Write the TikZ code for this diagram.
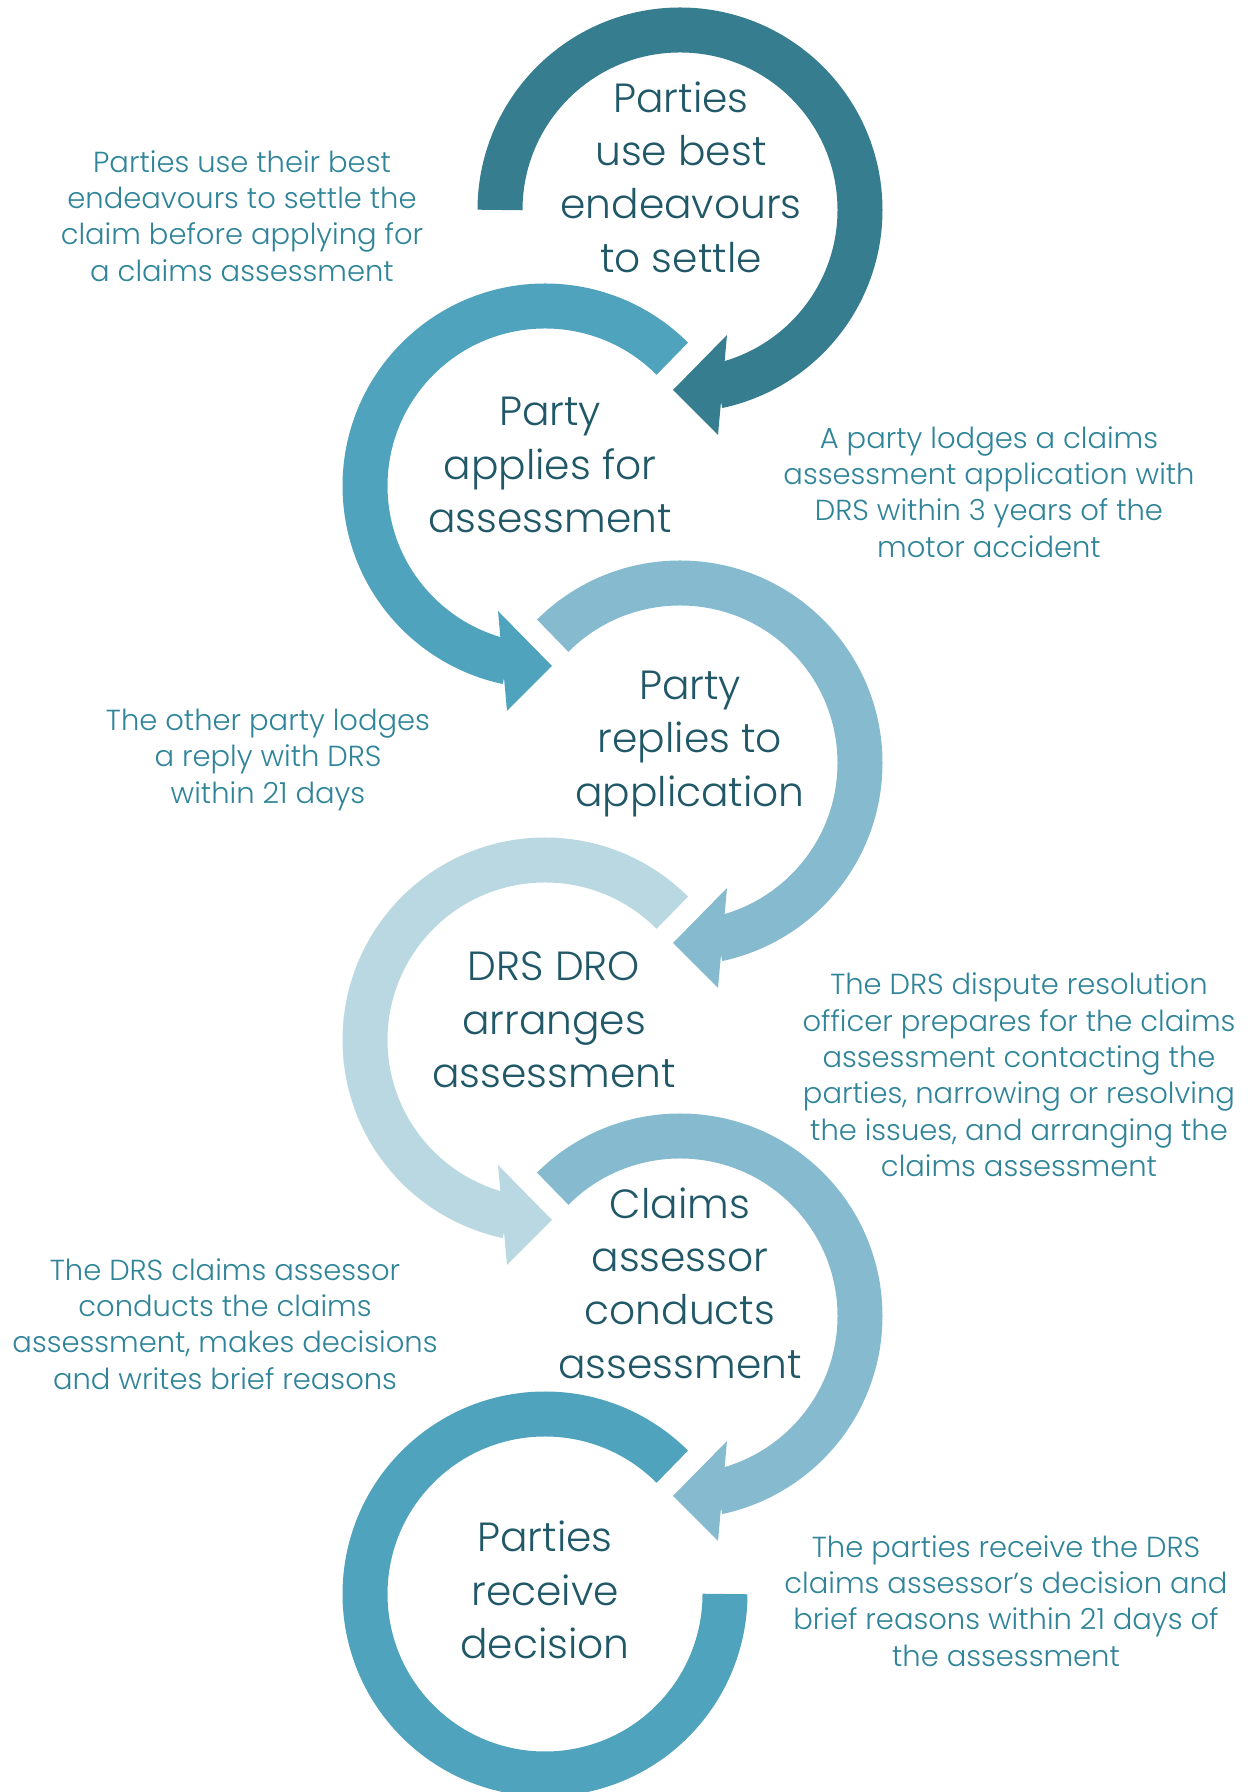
\documentclass[tikz,border=0pt]{standalone}
\usepackage{fontspec}
\setmainfont{Poppins}[UprightFont=* Light]
\definecolor{ringA}{RGB}{54,125,143}
\definecolor{ringB}{RGB}{80,163,189}
\definecolor{ringC}{RGB}{134,187,207}
\definecolor{ringD}{RGB}{186,216,226}
\definecolor{stagetext}{RGB}{33,88,104}
\definecolor{notetext}{RGB}{47,132,153}

\begin{document}
\begin{tikzpicture}[
    x=0.02cm, y=0.02cm,
    ring/.style={line width=0.9cm},
    stage/.style={align=center, text=stagetext, font=\fontsize{23.2}{30.4}\selectfont},
    note/.style={align=center, text=notetext, font=\fontsize{16.5}{20.7}\selectfont}
]
\useasboundingbox (0,0) rectangle (1256,1792);

% Circle centres
\coordinate (c1) at (680,1582);
\coordinate (c2) at (545,1306);
\coordinate (c3) at (680,1029);
\coordinate (c4) at (545,752);
\coordinate (c5) at (680,476);
\coordinate (c6) at (545,198);

% Rings with arrow heads
\begin{scope}[shift={(c1)}]
\draw[ring, ringA] (180:180) arc[start angle=180, end angle=-78, radius=180];
\fill[ringA] (47,-125) -- (-7,-180) -- (38,-225) -- cycle;
\end{scope}

\begin{scope}[shift={(c2)}]
\draw[ring, ringB] (45:180) arc[start angle=45, end angle=258, radius=180];
\fill[ringB] (-47,-125) -- (7,-180) -- (-38,-225) -- cycle;
\end{scope}

\begin{scope}[shift={(c3)}]
\draw[ring, ringC] (135:180) arc[start angle=135, end angle=-78, radius=180];
\fill[ringC] (47,-125) -- (-7,-180) -- (38,-225) -- cycle;
\end{scope}

\begin{scope}[shift={(c4)}]
\draw[ring, ringD] (45:180) arc[start angle=45, end angle=258, radius=180];
\fill[ringD] (-47,-125) -- (7,-180) -- (-38,-225) -- cycle;
\end{scope}

\begin{scope}[shift={(c5)}]
\draw[ring, ringC] (135:180) arc[start angle=135, end angle=-78, radius=180];
\fill[ringC] (47,-125) -- (-7,-180) -- (38,-225) -- cycle;
\end{scope}

\begin{scope}[shift={(c6)}]
\draw[ring, ringB] (45:180) arc[start angle=45, end angle=360, radius=180];
\end{scope}

% Stages
\node[stage] (s1) at (681,1615) {Parties\\use best\\endeavours\\to settle};
\node[stage] (s2) at (550,1327) {Party\\applies for\\assessment};
\node[stage] (s3) at (690,1048) {Party\\replies to\\application};
\node[stage] (s4) at (554,772) {DRS DRO\\arranges\\assessment};
\node[stage] (s5) at (680,509) {Claims\\assessor\\conducts\\assessment};
\node[stage] (s6) at (545,202) {Parties\\receive\\decision};

% Notes
\node[note] (n1) at (242,1576) {Parties use their best\\endeavours to settle the\\claim before applying for\\a claims assessment};
\node[note] (n2) at (989,1300) {A party lodges a claims\\assessment application with\\DRS within 3 years of the\\motor accident};
\node[note] (n3) at (268,1032) {The other party lodges\\a reply with DRS\\within 21 days};
\node[note] (n4) at (1019,717) {The DRS dispute resolution\\officer prepares for the claims\\assessment contacting the\\parties, narrowing or resolving\\the issues, and arranging the\\claims assessment};
\node[note] (n5) at (225,468) {The DRS claims assessor\\conducts the claims\\assessment, makes decisions\\and writes brief reasons};
\node[note] (n6) at (1006,191) {The parties receive the DRS\\claims assessor’s decision and\\brief reasons within 21 days of\\the assessment};

\end{tikzpicture}
\end{document}
